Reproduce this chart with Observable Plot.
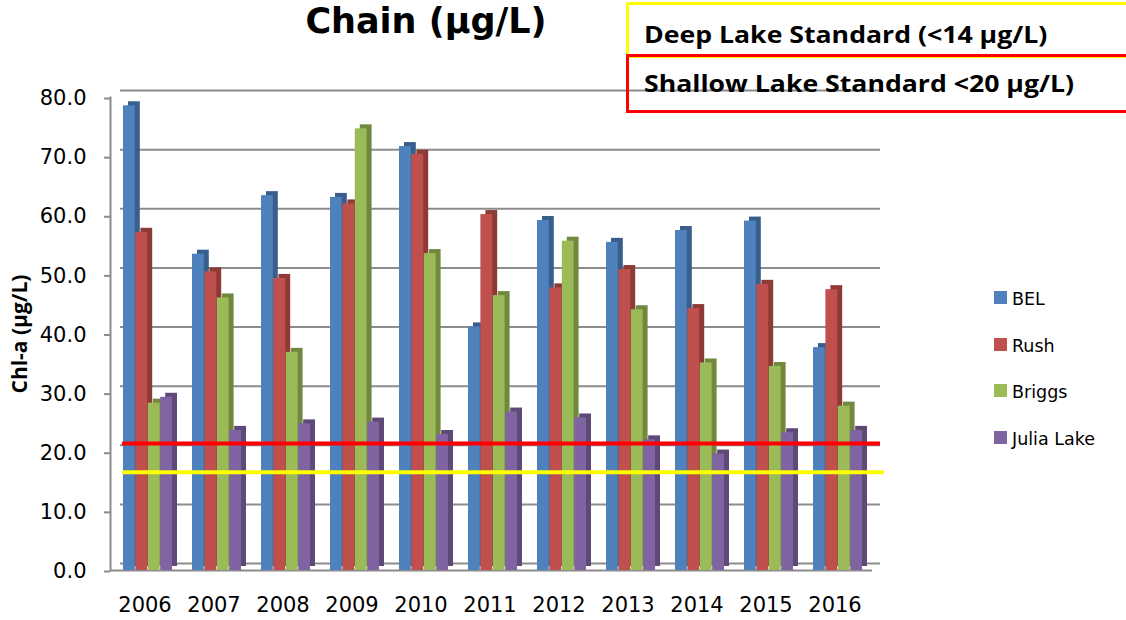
<!DOCTYPE html>
<html>
<head>
<meta charset="utf-8">
<script src="https://cdn.jsdelivr.net/npm/d3@7"></script>
<script src="https://cdn.jsdelivr.net/npm/@observablehq/plot@0.6"></script>
<style>
  html, body { margin: 0; padding: 0; background: #fff; }
  #wrap { position: relative; width: 1126px; height: 620px; overflow: hidden; background: #fff; }
  #chart { position: absolute; left: 0; top: 0; }
  #title { position: absolute; left: 226px; width: 400px; top: 1px; text-align: center;
           font-family: "DejaVu Sans"; font-weight: 700; font-size: 35px; line-height: 41px; color: #000; }
  .std { position: absolute; left: 626px; width: 540px; box-sizing: border-box; border-width: 3px; border-style: solid; }
  #deepBox { top: 2px; height: 56px; border-color: #ffff00; }
  #shallowBox { top: 54px; height: 59px; border-color: #ff0000; }
  .stdText { position: absolute; left: 644px; font-family: "Open Sans"; font-weight: 700; font-size: 24px; line-height: 24px; color: #000; white-space: nowrap;
             transform: scaleX(1.11); transform-origin: 0 50%; }
  #ylabel { position: absolute; left: 19px; top: 334px; transform: translate(-50%, -50%) rotate(-90deg);
            font-family: "Open Sans"; font-weight: 700; font-size: 21px; line-height: 21px; white-space: nowrap; color: #000; }
  .leg { position: absolute; left: 994px; font-family: "DejaVu Sans"; font-size: 17.5px; line-height: 18px; color: #000; white-space: nowrap; }
  .leg span.sw { position: absolute; left: 0; width: 13px; height: 13px; }
  .leg span.tx { position: absolute; left: 18px; }
</style>
</head>
<body>
<div id="wrap">
  <div id="chart"></div>
  <div id="title">Chain (µg/L)</div>
  <div class="std" id="deepBox"></div>
  <div class="std" id="shallowBox"></div>
  <div class="stdText" id="deepText" style="top:22px">Deep Lake Standard (&lt;14 µg/L)</div>
  <div class="stdText" id="shallowText" style="top:71px">Shallow Lake Standard &lt;20 µg/L)</div>
  <div id="ylabel">Chl-a (µg/L)</div>
  <div id="legend"></div>
</div>
<script>
// ---- data ----
const years = ["2006","2007","2008","2009","2010","2011","2012","2013","2014","2015","2016"];
const lakes = ["BEL","Rush","Briggs","Julia Lake"];
const bel    = [78.6, 53.5, 63.4, 63.1, 71.7, 41.2, 59.2, 55.5, 57.5, 59.1, 37.7];
const rush   = [57.2, 50.5, 49.4, 62.0, 70.4, 60.2, 47.8, 50.9, 44.3, 48.4, 47.5];
const briggs = [28.3, 46.1, 36.9, 74.7, 53.6, 46.5, 55.7, 44.1, 35.1, 34.5, 27.8];
const julia  = [29.3, 23.7, 24.8, 25.1, 23.0, 26.8, 25.8, 22.1, 19.7, 23.3, 23.7];
const yTicks = [0, 10, 20, 30, 40, 50, 60, 70, 80];
const shallowStandard = [21.5];
const deepStandard = [16.6];
const frontColors = ["#4F81BD", "#C0504D", "#9BBB59", "#8064A2"];
const sideColors  = ["#385E8B", "#8E3A37", "#71893F", "#5E4978"];

const series = [bel, rush, briggs, julia];
const tables = series.map((vals, i) => years.map((year, j) => ({year, lake: lakes[i], value: vals[j]})));

const slot = 12.4; // width of one bar within a year band
const barMarks = [];
tables.forEach((tbl, i) => {
  const insets = {insetLeft: i * slot, insetRight: (3 - i) * slot};
  barMarks.push(Plot.barY(tbl, {x: "year", y: "value", fill: sideColors[i], dx: 5, dy: -4, ...insets}));
  barMarks.push(Plot.barY(tbl, {x: "year", y: "value", fill: frontColors[i], ...insets}));
});

const chart = Plot.plot({
  width: 1126,
  height: 620,
  marginLeft: 110,
  marginRight: 250,
  marginTop: 97,
  marginBottom: 50,
  style: {fontFamily: "DejaVu Sans", fontSize: "21px", color: "#000", background: "transparent", overflow: "visible"},
  x: {domain: years, paddingInner: 0.285, paddingOuter: 0.169, label: null},
  y: {domain: [0, 80], label: null},
  marks: [
    // back wall gridlines
    Plot.ruleY(yTicks, {stroke: "#8c8c8c", strokeWidth: 2, dx: 10, dy: -7, insetRight: 6}),
    // floor front edge
    Plot.ruleY([0], {stroke: "#8c8c8c", strokeWidth: 2, insetRight: 4}),
    // front axis line
    Plot.frame({anchor: "left", stroke: "#8c8c8c", strokeWidth: 2}),
    ...barMarks,
    Plot.ruleY(shallowStandard, {stroke: "#ff0000", strokeWidth: 4, dx: 10, insetLeft: 2, insetRight: 6}),
    Plot.ruleY(deepStandard, {stroke: "#ffff00", strokeWidth: 4, dx: 10, insetLeft: 2, insetRight: 2}),
    Plot.axisY({ticks: yTicks, tickFormat: ".1f", tickSize: 6, tickPadding: 18, stroke: "#8c8c8c", strokeWidth: 2, fontSize: 21, dy: 1, label: null}),
    Plot.axisX({tickSize: 0, tickPadding: 27, fontSize: 21, dx: -3, label: null})
  ]
});
document.getElementById("chart").appendChild(chart);

// legend
const legend = document.getElementById("legend");
const legTops = [290, 337, 383, 430];
lakes.forEach((name, i) => {
  const d = document.createElement("div");
  d.className = "leg";
  d.style.top = legTops[i] + "px";
  d.innerHTML = `<span class="sw" style="top:1px;background:${frontColors[i]}"></span><span class="tx" style="top:0">${name}</span>`;
  legend.appendChild(d);
});
</script>
</body>
</html>
